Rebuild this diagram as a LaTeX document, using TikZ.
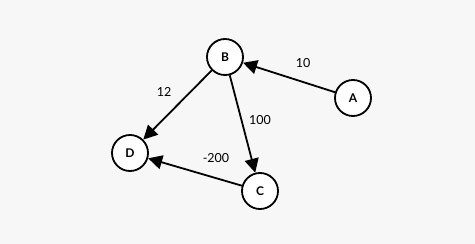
\documentclass[tikz,border=0pt]{standalone}
\usepackage{fontspec}
\setmainfont{Lato}
\usetikzlibrary{arrows.meta}
\definecolor{bg}{HTML}{F7F7F7}
\tikzset{
  vert/.style={circle,draw=black,fill=white,line width=1.8pt,minimum size=36pt,inner sep=0pt,font=\fontsize{12}{14}\selectfont\bfseries},
  edge/.style={line width=1.8pt,-{Triangle[length=14pt,width=14pt]}},
  wlabel/.style={font=\fontsize{12.5}{14}\selectfont,inner sep=0pt}
}
\begin{document}
\begin{tikzpicture}[x=1pt,y=-1pt]
\fill[bg] (0,0) rectangle (475,244);
\useasboundingbox (0,0) rectangle (475,244);
\node[vert] (B) at (225,57) {B};
\node[vert] (A) at (353,98) {A};
\node[vert] (D) at (130,153) {D};
\node[vert] (C) at (260,191) {C};
\draw[edge] (A) -- (B);
\draw[edge] (B) -- (D);
\draw[edge] (B) -- (C);
\draw[edge] (C) -- (D);
\node[wlabel] (l1) at (303,63) {10};
\node[wlabel] (l2) at (164,92) {12};
\node[wlabel] (l3) at (260,120) {100};
\node[wlabel] (l4) at (216,158) {-200};
\end{tikzpicture}
\end{document}
